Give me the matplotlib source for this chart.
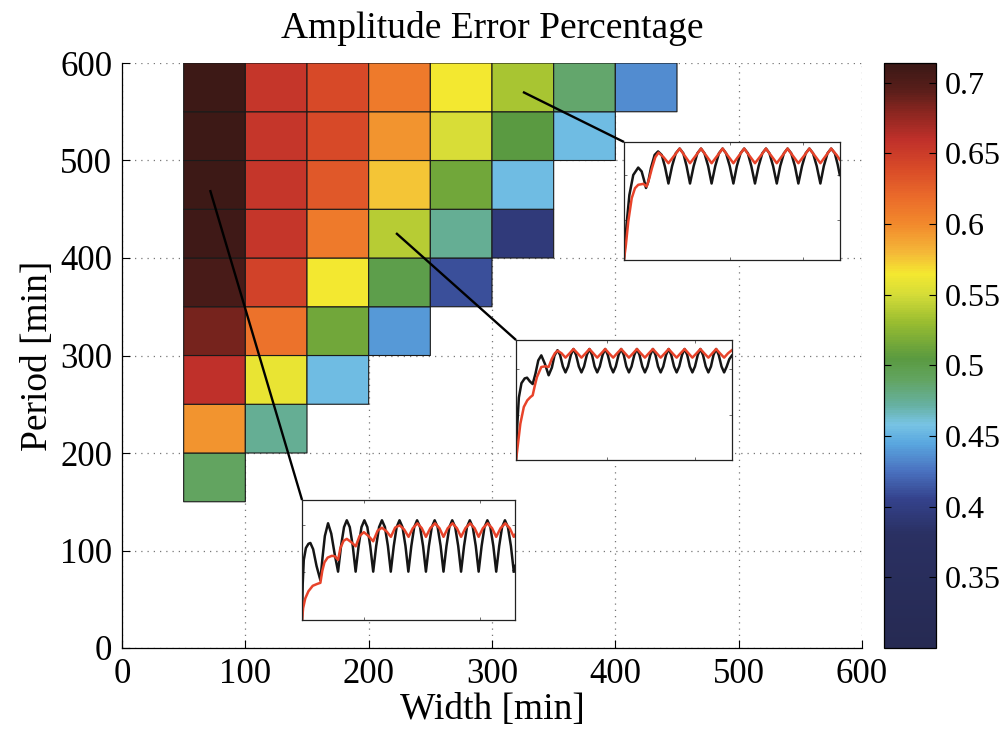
import numpy as np
import matplotlib
matplotlib.use('Agg')
import matplotlib.pyplot as plt
from matplotlib.colors import LinearSegmentedColormap

plt.rcParams['font.family'] = ['Liberation Serif', 'DejaVu Serif']

# ---------------- data ----------------
width_edges = [50, 100, 150, 200, 250, 300, 350, 400, 450]
period_edges = [150, 200, 250, 300, 350, 400, 450, 500, 550, 600]
nan = np.nan
# amplitude error per width column, periods bottom (150-200) to top (550-600)
err_w050 = [0.49, 0.595, 0.66, 0.685, 0.705, 0.71, 0.712, 0.712, 0.712]
err_w100 = [nan, 0.475, 0.56, 0.615, 0.645, 0.655, 0.655, 0.655, 0.655]
err_w150 = [nan, nan, 0.455, 0.515, 0.565, 0.61, 0.63, 0.64, 0.64]
err_w200 = [nan, nan, nan, 0.44, 0.50, 0.54, 0.575, 0.595, 0.61]
err_w250 = [nan, nan, nan, nan, 0.41, 0.475, 0.515, 0.552, 0.565]
err_w300 = [nan, nan, nan, nan, nan, 0.395, 0.455, 0.505, 0.535]
err_w350 = [nan, nan, nan, nan, nan, nan, nan, 0.455, 0.487]
err_w400 = [nan, nan, nan, nan, nan, nan, nan, nan, 0.435]

x_ticks = [0, 100, 200, 300, 400, 500, 600]
y_ticks = [0, 100, 200, 300, 400, 500, 600]
cbar_ticks = [0.35, 0.4, 0.45, 0.5, 0.55, 0.6, 0.65, 0.7]
cbar_labels = ['0.35', '0.4', '0.45', '0.5', '0.55', '0.6', '0.65', '0.7']
vmin, vmax = 0.300, 0.714

# colormap anchors (value, colour)
cmap_values = [0.300, 0.380, 0.405, 0.425, 0.445, 0.458, 0.472, 0.490, 0.505,
               0.530, 0.550, 0.565, 0.580, 0.600, 0.620, 0.640, 0.660, 0.680,
               0.695, 0.714]
cmap_colors = ['#262a52', '#2a3062', '#34428c', '#4a72c0', '#5aa8e0', '#78c4e4',
               '#66b0a0', '#62a460', '#5a9a40', '#98bc30', '#d4dc38', '#f4e830',
               '#f4b838', '#f28a2c', '#ea6a2a', '#d84a28', '#c0302a', '#8a2620',
               '#5a1e1a', '#3a1816']

# call-out lines: (point in map) -> (inset corner)
callout_1 = [(71.4, 469.7), (146.0, 151.8)]
callout_2 = [(222.2, 425.6), (319.5, 315.9)]
callout_3 = [(325.1, 570.3), (407.0, 519.0)]
# inset boxes in data coords: x0, y0, width, height
inset_1_box = [146.0, 28.7, 172.7, 123.1]
inset_2_box = [319.5, 192.8, 175.0, 123.1]
inset_3_box = [407.0, 398.0, 175.0, 121.0]

# inset time series (normalised time, normalised amplitude)
inset1_black = [
    (0.000, 0.00), (0.003, 0.30), (0.008, 0.50), (0.018, 0.60), (0.030, 0.635), (0.039, 0.642),
    (0.052, 0.59), (0.068, 0.45), (0.086, 0.332), (0.096, 0.52), (0.107, 0.70), (0.122, 0.806),
    (0.137, 0.72), (0.153, 0.55), (0.169, 0.403),
    (0.183, 0.617), (0.197, 0.774), (0.210, 0.831), (0.224, 0.774), (0.238, 0.617),
    (0.2515, 0.403), (0.2655, 0.617), (0.279, 0.774), (0.2925, 0.831), (0.3065, 0.774), (0.320, 0.617),
    (0.334, 0.403), (0.348, 0.617), (0.3615, 0.774), (0.375, 0.831), (0.389, 0.774), (0.403, 0.617),
    (0.4165, 0.403), (0.4305, 0.617), (0.444, 0.774), (0.4575, 0.831), (0.4715, 0.774), (0.4855, 0.617),
    (0.499, 0.403), (0.513, 0.617), (0.5265, 0.774), (0.540, 0.831), (0.554, 0.774), (0.568, 0.617),
    (0.5815, 0.403), (0.5955, 0.617), (0.609, 0.774), (0.6225, 0.831), (0.6365, 0.774), (0.6505, 0.617),
    (0.664, 0.403), (0.678, 0.617), (0.6915, 0.774), (0.705, 0.831), (0.719, 0.774), (0.733, 0.617),
    (0.7465, 0.403), (0.7605, 0.617), (0.774, 0.774), (0.7875, 0.831), (0.8015, 0.774), (0.8155, 0.617),
    (0.829, 0.403), (0.843, 0.617), (0.8565, 0.774), (0.870, 0.831), (0.884, 0.774), (0.898, 0.617),
    (0.9115, 0.403), (0.9255, 0.617), (0.939, 0.774), (0.9525, 0.831), (0.9665, 0.774), (0.9805, 0.617),
    (0.994, 0.403), (1.000, 0.45)]
inset1_red = [
    (0.000, 0.00), (0.005, 0.10), (0.015, 0.18), (0.030, 0.24), (0.050, 0.285), (0.070, 0.30),
    (0.086, 0.31), (0.095, 0.41), (0.105, 0.48), (0.120, 0.52), (0.140, 0.535), (0.155, 0.53),
    (0.169, 0.50), (0.180, 0.60), (0.195, 0.66), (0.210, 0.676), (0.230, 0.65), (0.252, 0.614),
    (0.270, 0.70), (0.290, 0.732), (0.312, 0.70), (0.334, 0.656), (0.355, 0.745), (0.375, 0.769),
    (0.396, 0.74), (0.417, 0.693), (0.437, 0.77), (0.458, 0.789), (0.479, 0.755), (0.500, 0.693),
    (0.520, 0.765), (0.5415, 0.806), (0.562, 0.765), (0.5815, 0.693), (0.602, 0.765), (0.624, 0.806),
    (0.645, 0.765), (0.664, 0.693), (0.684, 0.765), (0.7065, 0.806), (0.727, 0.765), (0.7465, 0.693),
    (0.767, 0.765), (0.789, 0.806), (0.810, 0.765), (0.829, 0.693), (0.849, 0.765), (0.8715, 0.806),
    (0.892, 0.765), (0.9115, 0.693), (0.932, 0.765), (0.954, 0.806), (0.975, 0.765), (0.994, 0.693),
    (1.000, 0.71)]
inset2_black = [
    (0.000, 0.00), (0.006, 0.30), (0.013, 0.52), (0.025, 0.64), (0.040, 0.68), (0.051, 0.686),
    (0.064, 0.655), (0.077, 0.633), (0.090, 0.72), (0.103, 0.83), (0.117, 0.872), (0.134, 0.80),
    (0.151, 0.706), (0.166, 0.77), (0.178, 0.87), (0.192, 0.915),
    (0.204, 0.876), (0.217, 0.779), (0.229, 0.73), (0.241, 0.779), (0.254, 0.876), (0.266, 0.925),
    (0.278, 0.876), (0.291, 0.779), (0.303, 0.73), (0.315, 0.779), (0.328, 0.876), (0.340, 0.925),
    (0.352, 0.876), (0.364, 0.779), (0.376, 0.73), (0.388, 0.779), (0.401, 0.876), (0.413, 0.925),
    (0.425, 0.876), (0.438, 0.779), (0.450, 0.73), (0.462, 0.779), (0.475, 0.876), (0.487, 0.925),
    (0.499, 0.876), (0.511, 0.779), (0.523, 0.73), (0.535, 0.779), (0.548, 0.876), (0.560, 0.925),
    (0.572, 0.876), (0.585, 0.779), (0.597, 0.73), (0.609, 0.779), (0.622, 0.876), (0.634, 0.925),
    (0.646, 0.876), (0.658, 0.779), (0.670, 0.73), (0.682, 0.779), (0.695, 0.876), (0.707, 0.925),
    (0.719, 0.876), (0.732, 0.779), (0.744, 0.73), (0.756, 0.779), (0.769, 0.876), (0.781, 0.925),
    (0.793, 0.876), (0.805, 0.779), (0.817, 0.73), (0.829, 0.779), (0.842, 0.876), (0.854, 0.925),
    (0.866, 0.876), (0.879, 0.779), (0.891, 0.73), (0.903, 0.779), (0.915, 0.876), (0.927, 0.925),
    (0.939, 0.876), (0.952, 0.779), (0.964, 0.73), (0.976, 0.779), (0.988, 0.84), (1.000, 0.87)]
inset2_red = [
    (0.000, 0.00), (0.009, 0.136), (0.020, 0.303), (0.036, 0.442), (0.052, 0.497), (0.067, 0.525),
    (0.077, 0.539), (0.087, 0.62), (0.097, 0.692), (0.117, 0.775), (0.136, 0.781), (0.151, 0.775),
    (0.165, 0.84), (0.180, 0.89), (0.193, 0.91),
    (0.211, 0.889), (0.229, 0.853), (0.248, 0.889), (0.266, 0.925), (0.285, 0.889), (0.303, 0.853),
    (0.322, 0.889), (0.340, 0.925), (0.358, 0.889), (0.376, 0.853), (0.395, 0.889), (0.413, 0.925),
    (0.431, 0.889), (0.450, 0.853), (0.468, 0.889), (0.487, 0.925), (0.505, 0.889), (0.523, 0.853),
    (0.542, 0.889), (0.560, 0.925), (0.578, 0.889), (0.597, 0.853), (0.615, 0.889), (0.634, 0.925),
    (0.652, 0.889), (0.670, 0.853), (0.689, 0.889), (0.707, 0.925), (0.725, 0.889), (0.744, 0.853),
    (0.762, 0.889), (0.781, 0.925), (0.799, 0.889), (0.817, 0.853), (0.836, 0.889), (0.854, 0.925),
    (0.872, 0.889), (0.891, 0.853), (0.909, 0.889), (0.927, 0.925), (0.945, 0.889), (0.964, 0.853),
    (0.982, 0.889), (1.000, 0.915)]
inset3_black = [
    (0.000, 0.00), (0.006, 0.15), (0.012, 0.30), (0.025, 0.55), (0.043, 0.72), (0.066, 0.783),
    (0.082, 0.75), (0.094, 0.67), (0.102, 0.61), (0.112, 0.66), (0.125, 0.78), (0.142, 0.89),
    (0.158, 0.92),
    (0.175, 0.89), (0.190, 0.79), (0.206, 0.648), (0.223, 0.796), (0.240, 0.904), (0.258, 0.944),
    (0.275, 0.904), (0.290, 0.796), (0.306, 0.648), (0.323, 0.796), (0.340, 0.904), (0.357, 0.944),
    (0.373, 0.904), (0.390, 0.796), (0.406, 0.648), (0.423, 0.796), (0.440, 0.904), (0.457, 0.944),
    (0.473, 0.904), (0.490, 0.796), (0.507, 0.648), (0.523, 0.796), (0.540, 0.904), (0.557, 0.944),
    (0.574, 0.904), (0.590, 0.796), (0.607, 0.648), (0.624, 0.796), (0.641, 0.904), (0.658, 0.944),
    (0.674, 0.904), (0.691, 0.796), (0.708, 0.648), (0.724, 0.796), (0.741, 0.904), (0.758, 0.944),
    (0.775, 0.904), (0.792, 0.796), (0.808, 0.648), (0.825, 0.796), (0.842, 0.904), (0.859, 0.944),
    (0.876, 0.904), (0.893, 0.796), (0.910, 0.648), (0.926, 0.796), (0.943, 0.904), (0.960, 0.944),
    (0.977, 0.904), (0.990, 0.81), (1.000, 0.72)]
inset3_red = [
    (0.000, 0.00), (0.009, 0.13), (0.020, 0.327), (0.036, 0.524), (0.051, 0.608), (0.066, 0.637),
    (0.090, 0.645), (0.105, 0.623), (0.117, 0.69), (0.130, 0.78), (0.145, 0.87), (0.160, 0.91),
    (0.183, 0.872), (0.206, 0.82), (0.232, 0.882), (0.258, 0.944), (0.282, 0.882), (0.306, 0.82),
    (0.332, 0.882), (0.357, 0.944), (0.382, 0.882), (0.406, 0.82), (0.432, 0.882), (0.457, 0.944),
    (0.482, 0.882), (0.507, 0.82), (0.532, 0.882), (0.557, 0.944), (0.582, 0.882), (0.607, 0.82),
    (0.633, 0.882), (0.658, 0.944), (0.683, 0.882), (0.708, 0.82), (0.733, 0.882), (0.758, 0.944),
    (0.783, 0.882), (0.808, 0.82), (0.834, 0.882), (0.859, 0.944), (0.885, 0.882), (0.910, 0.82),
    (0.935, 0.882), (0.960, 0.944), (0.985, 0.89), (1.000, 0.85)]
inset_xticks = [[0.29, 0.836], [0.42, 0.83], [0.49, 0.83]]
inset_yticks = [[0.40, 0.79], [0.375, 0.76], [0.34, 0.72]]

# ---------------- figure ----------------
fig = plt.figure(figsize=(9.99, 7.32), dpi=100)
ax = fig.add_axes([122 / 999, 84 / 732, 740 / 999, 585 / 732])

norm_pos = [(v - vmin) / (vmax - vmin) for v in cmap_values]
cmap = LinearSegmentedColormap.from_list('amp', list(zip(norm_pos, cmap_colors)))

values = np.ma.masked_invalid(np.column_stack(
    [err_w050, err_w100, err_w150, err_w200, err_w250, err_w300, err_w350, err_w400]))
mesh = ax.pcolor(width_edges, period_edges, values, cmap=cmap, vmin=vmin, vmax=vmax,
                 edgecolors='#1a1a1a', linewidth=0.8, zorder=2)

ax.set_xlim(0, 600)
ax.set_ylim(0, 600)
ax.set_xticks(x_ticks)
ax.set_yticks(y_ticks)
ax.grid(True, linestyle=(0, (1, 4)), color='#777777', linewidth=0.9)
ax.set_axisbelow(True)
for s in ['top', 'right']:
    ax.spines[s].set_visible(False)
for s in ['left', 'bottom']:
    ax.spines[s].set_linewidth(0.9)
ax.tick_params(direction='in', length=6, width=0.8, labelsize=25, pad=7)
ax.set_xlabel('Width [min]', fontsize=27, labelpad=1)
ax.set_ylabel('Period [min]', fontsize=27, labelpad=4)
ax.set_title('Amplitude Error Percentage', fontsize=27, pad=18)

# call-out lines
for seg in [callout_1, callout_2, callout_3]:
    (x0, y0), (x1, y1) = seg
    ax.plot([x0, x1], [y0, y1], color='k', lw=1.7, zorder=4, solid_capstyle='butt')

# insets
insets = [(inset_1_box, inset1_black, inset1_red),
          (inset_2_box, inset2_black, inset2_red),
          (inset_3_box, inset3_black, inset3_red)]
for i, (box, blk, red) in enumerate(insets):
    ia = ax.inset_axes(box, transform=ax.transData, zorder=5)
    b = np.array(blk)
    r = np.array(red)
    ia.plot(b[:, 0], b[:, 1], color='#151515', lw=1.8, solid_joinstyle='round')
    ia.plot(r[:, 0], r[:, 1], color='#e8432a', lw=1.8, solid_joinstyle='round')
    ia.set_xlim(0, 1)
    ia.set_ylim(0, 1)
    ia.set_xticks(inset_xticks[i])
    ia.set_yticks(inset_yticks[i])
    ia.tick_params(direction='in', length=2.5, width=0.6, labelleft=False,
                   labelbottom=False, top=True, right=True, colors='#555555')
    for s in ia.spines.values():
        s.set_linewidth(0.9)
        s.set_color('#222222')

# colour bar
cax = fig.add_axes([884 / 999, 84 / 732, 52 / 999, 585 / 732])
cb = fig.colorbar(mesh, cax=cax, ticks=cbar_ticks)
cb.ax.set_yticklabels(cbar_labels)
cb.ax.tick_params(direction='in', left=True, right=True, length=5, width=0.8,
                  labelsize=23, pad=6)
cb.outline.set_linewidth(0.9)

fig.savefig('out.png', dpi=100)
